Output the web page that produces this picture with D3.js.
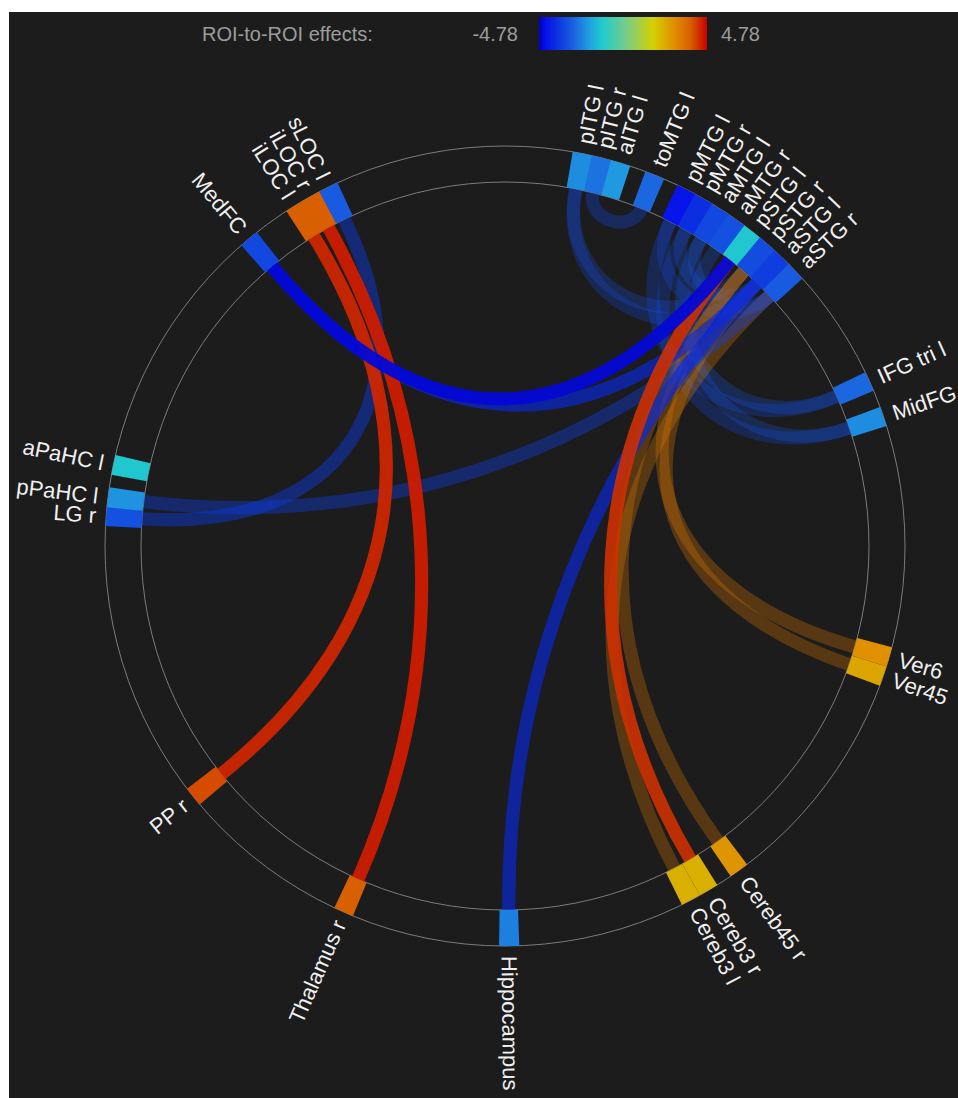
<!DOCTYPE html>
<html>
<head>
<meta charset="utf-8">
<script src="https://cdn.jsdelivr.net/npm/d3@7"></script>
<style>
  body { margin: 0; background: #fff; }
  svg { display: block; }
  text { font-family: "Liberation Sans", Arial, sans-serif; }
</style>
</head>
<body>
<div id="chart"></div>
<script>
// ROIs shown on the ring, their place on the ring (degrees clockwise from top)
// and the ROI-level effect that colours each block
const rois = ["pITG l", "pITG r", "aITG l", "toMTG l",
  "pMTG l", "pMTG r", "aMTG l", "aMTG r", "pSTG l", "pSTG r", "aSTG l", "aSTG r",
  "IFG tri l", "MidFG", "Ver6", "Ver45", "Cereb45 r", "Cereb3 r", "Cereb3 l",
  "Hippocampus", "Thalamus r", "PP r", "LG r", "pPaHC l", "aPaHC l",
  "MedFC", "iLOC l", "iLOC r", "sLOC l"];
const roiAngles = [11.2, 14.0, 16.8, 22.0,
  27.0, 29.8, 32.6, 35.4, 38.2, 41.0, 43.8, 46.6,
  65.7, 71.1, 106.1, 109.0, 144.2, 149.4, 152.3,
  179.4, 203.8, 231.2, 274.3, 277.0, 281.7,
  320.2, 328.3, 331.0, 333.8];
const roiEffects = [-2.20, -2.58, -2.01, -2.77,
  -4.30, -3.82, -3.35, -3.15, -1.24, -3.25, -3.54, -2.96,
  -2.77, -2.20, 2.87, 2.49, 2.77, 2.29, 2.29,
  -2.39, 3.82, 4.02, -3.15, -2.10, -1.24,
  -3.35, 3.82, 3.82, -2.96];

// ROI-to-ROI connections
const connSource = ["pITG r", "pITG l", "pITG l", "pMTG l", "pMTG r", "aMTG l",
  "pMTG l", "aMTG l", "pMTG r", "aMTG r",
  "MedFC", "MedFC", "sLOC l", "pPaHC l", "Hippocampus",
  "iLOC l", "iLOC r", "Cereb3 r", "Cereb3 l", "Cereb45 r", "Ver6", "Ver45"];
const connTarget = ["toMTG l", "aSTG l", "pSTG r", "aSTG r", "aSTG l", "aSTG r",
  "IFG tri l", "IFG tri l", "MidFG", "MidFG",
  "pSTG l", "aSTG l", "LG r", "aSTG r", "aSTG l",
  "PP r", "Thalamus r", "pSTG l", "aSTG r", "pSTG r", "pSTG r", "aSTG l"];
const connValues = [-3.4, -3.3, -3.2, -3.3, -3.2, -3.1,
  -3.3, -3.1, -3.3, -3.1,
  -4.6, -3.9, -3.6, -3.5, -3.9,
  4.4, 4.5, 4.3, 3.35, 3.35, 3.35, 3.35];

// colour bar
const effectMax = 4.78;
const cmapStops = [0, 0.04, 0.1, 0.2, 0.3, 0.38, 0.52, 0.68, 0.8, 0.9, 1];
const cmapColors = ["#0000c0", "#0610ec", "#0a2ee0", "#1a60e0", "#20a0e0", "#20cccc",
  "#78cc88", "#d4d000", "#e09000", "#d86000", "#c80000"];

const W = 958, H = 1098;
const cx = 505, cy = 546, rIn = 364, rOut = 400, rLabel = 410;
const slotDeg = 2.8;

const svg = d3.select("#chart").append("svg")
  .attr("width", W).attr("height", H);

svg.append("rect").attr("x", 9).attr("y", 12)
  .attr("width", W - 9).attr("height", H - 12).attr("fill", "#1c1c1c");

const tScale = d3.scaleLinear().domain([-effectMax, effectMax]).range([0, 1]).clamp(true);
const cmap = d3.scaleLinear().domain(cmapStops).range(cmapColors).interpolate(d3.interpolateRgb);
const color = v => cmap(tScale(v));
const alpha = d3.scaleLinear().domain([3.3, 4.4]).range([0.28, 0.95]).clamp(true);
const angle = d3.scaleLinear().domain([0, 360]).range([0, 2 * Math.PI]);

// legend
const legend = svg.append("g").attr("fill", "#9c9c9c").style("font-size", "20px");
legend.append("text").attr("x", 202).attr("y", 34).attr("dy", "0.35em").text("ROI-to-ROI effects:");
legend.append("text").attr("x", 518).attr("y", 34).attr("dy", "0.35em")
  .attr("text-anchor", "end").text((-effectMax).toFixed(2));
legend.append("text").attr("x", 721).attr("y", 34).attr("dy", "0.35em").text(effectMax.toFixed(2));

const grad = svg.append("defs").append("linearGradient").attr("id", "cbar");
grad.selectAll("stop").data(cmapStops).join("stop")
  .attr("offset", d => d).attr("stop-color", (d, i) => cmapColors[i]);
svg.append("rect").attr("x", 539).attr("y", 17).attr("width", 168).attr("height", 33)
  .attr("fill", "url(#cbar)");

const g = svg.append("g").attr("transform", `translate(${cx},${cy})`);

// ring outlines
g.selectAll("circle.ring").data([rIn, rOut]).join("circle")
  .attr("class", "ring").attr("r", d => d)
  .attr("fill", "none").attr("stroke", "#7c7c7c").attr("stroke-width", 1);

// connections: cubic curves pulled toward the centre
const idx = name => rois.indexOf(name);
const conns = connSource.map((s, i) => ({ s: idx(s), t: idx(connTarget[i]), v: connValues[i] }))
  .sort((a, b) => Math.abs(a.v) - Math.abs(b.v));

function chordPath(d) {
  const a0 = angle(roiAngles[d.s]), a1 = angle(roiAngles[d.t]);
  let da = Math.abs(a0 - a1);
  if (da > Math.PI) da = 2 * Math.PI - da;
  const k = Math.max(0.36, 1 - 1.1 * Math.sin(da / 2));
  const p0 = d3.pointRadial(a0, rIn), p1 = d3.pointRadial(a1, rIn);
  const c0 = d3.pointRadial(a0, rIn * k), c1 = d3.pointRadial(a1, rIn * k);
  const p = d3.path();
  p.moveTo(p0[0], p0[1]);
  p.bezierCurveTo(c0[0], c0[1], c1[0], c1[1], p1[0], p1[1]);
  return p.toString();
}

const bandWidth = angle(slotDeg) * rIn * 0.74;
g.append("g").selectAll("path").data(conns).join("path")
  .attr("d", chordPath)
  .attr("fill", "none")
  .attr("stroke", d => color(d.v))
  .attr("stroke-opacity", d => alpha(Math.abs(d.v)))
  .attr("stroke-width", bandWidth);

// ROI blocks
const arc = d3.arc().innerRadius(rIn).outerRadius(rOut);
g.append("g").selectAll("path").data(rois).join("path")
  .attr("d", (d, i) => arc({
    startAngle: angle(roiAngles[i] - slotDeg / 2 - 0.05),
    endAngle: angle(roiAngles[i] + slotDeg / 2 + 0.05)
  }))
  .attr("fill", (d, i) => color(roiEffects[i]));

// ROI labels
g.append("g").selectAll("text").data(rois).join("text")
  .attr("transform", (d, i) => {
    const deg = roiAngles[i];
    return `rotate(${deg - 90}) translate(${rLabel},0)` + (deg > 180 ? " rotate(180)" : "");
  })
  .attr("text-anchor", (d, i) => roiAngles[i] > 180 ? "end" : "start")
  .attr("dy", "0.35em")
  .attr("fill", "#f0f0f0")
  .style("font-size", "22px")
  .text(d => d);
</script>
</body>
</html>
